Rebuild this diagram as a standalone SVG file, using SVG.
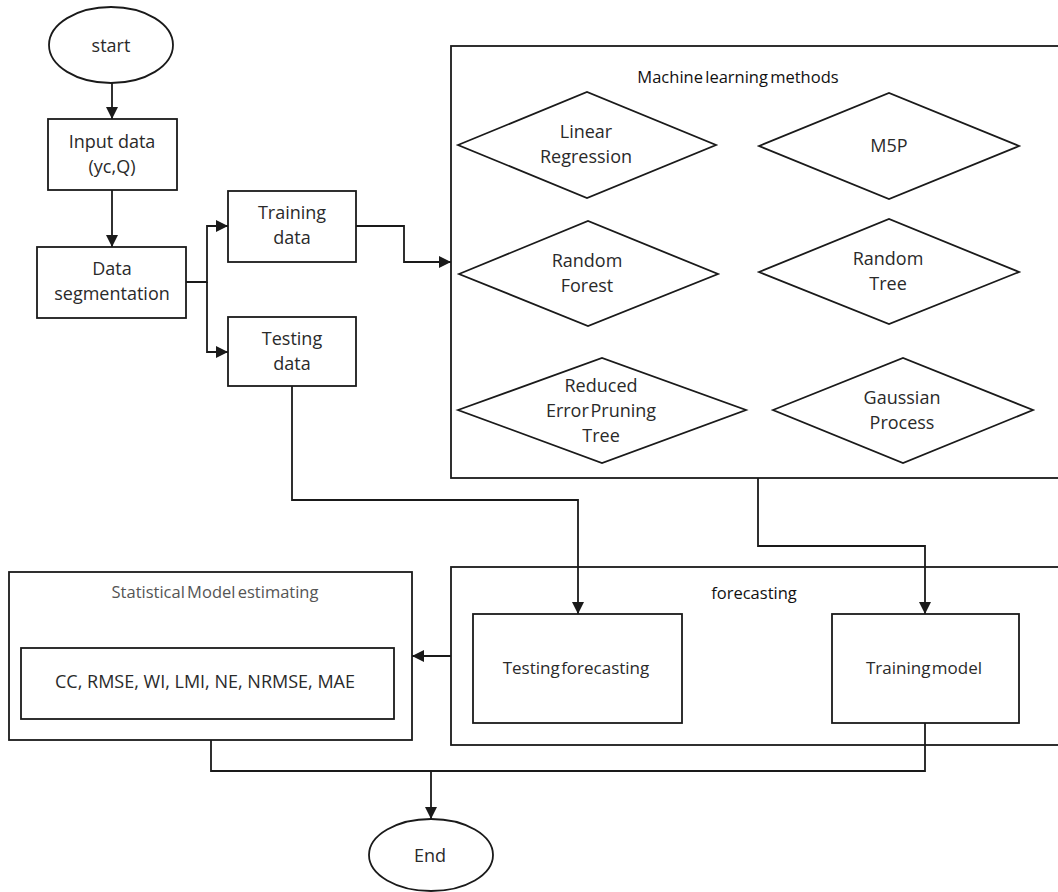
<svg xmlns="http://www.w3.org/2000/svg" width="1058" height="892" viewBox="0 0 1058 892">
<style>
.shape{fill:#fff;stroke:#1a1a1a;stroke-width:1.8}
.grp{fill:none;stroke:#1a1a1a;stroke-width:1.8}
.conn{fill:none;stroke:#1a1a1a;stroke-width:1.8}
.lbl{font-family:"Open Sans","Noto Sans",sans-serif;font-size:18px;fill:#2a2a2a;text-anchor:middle}
.ttl{font-family:"Open Sans","Noto Sans",sans-serif;font-size:16.5px;fill:#111;text-anchor:middle;word-spacing:-2px}
.sm{font-size:17px;word-spacing:-3px}
</style>
<defs>
<marker id="arr" viewBox="0 0 12 12" refX="12" refY="6" markerWidth="13" markerHeight="12" markerUnits="userSpaceOnUse" orient="auto">
<path d="M0,0 L12,6 L0,12 z" fill="#1a1a1a"/>
</marker>
</defs>
<rect width="1058" height="892" fill="#fff"/>

<g id="ml-group">
<rect class="grp" x="451" y="46" width="620" height="432"/>
<text class="ttl" x="738" y="83">Machine learning methods</text>
</g>
<g id="forecasting-group">
<rect class="grp" x="451" y="567" width="620" height="178"/>
<text class="ttl" x="754" y="599">forecasting</text>
</g>
<g id="stat-group">
<rect class="grp" x="9" y="572" width="403" height="168"/>
<text class="ttl" x="215" y="598" style="fill:#555">Statistical Model estimating</text>
</g>

<g id="connectors">
<path class="conn" d="M112,83 V119" marker-end="url(#arr)"/>
<path class="conn" d="M112,190 V247" marker-end="url(#arr)"/>
<path class="conn" d="M186,282 H207 V226 H228" marker-end="url(#arr)"/>
<path class="conn" d="M207,282 V352 H228" marker-end="url(#arr)"/>
<path class="conn" d="M356,226 H404 V262 H451" marker-end="url(#arr)"/>
<path class="conn" d="M292,386 V500 H578 V614" marker-end="url(#arr)"/>
<path class="conn" d="M758,478 V546 H925 V614" marker-end="url(#arr)"/>
<path class="conn" d="M451,656 H412" marker-end="url(#arr)"/>
<path class="conn" d="M925,723 V771 H211 V740"/>
<path class="conn" d="M431,771 V819" marker-end="url(#arr)"/>
</g>

<g id="start">
<ellipse class="shape" cx="111" cy="45" rx="62" ry="38"/>
<text class="lbl" x="111" y="52">start</text>
</g>
<g id="input-data">
<rect class="shape" x="48" y="119" width="129" height="71"/>
<text class="lbl" x="112" y="148">Input data</text>
<text class="lbl" x="112" y="173">(yc,Q)</text>
</g>
<g id="data-segmentation">
<rect class="shape" x="37" y="247" width="149" height="71"/>
<text class="lbl" x="112" y="275">Data</text>
<text class="lbl" x="112" y="300">segmentation</text>
</g>
<g id="training-data">
<rect class="shape" x="228" y="191" width="128" height="71"/>
<text class="lbl" x="292" y="219">Training</text>
<text class="lbl" x="292" y="244">data</text>
</g>
<g id="testing-data">
<rect class="shape" x="228" y="317" width="128" height="69"/>
<text class="lbl" x="292" y="345">Testing</text>
<text class="lbl" x="292" y="370">data</text>
</g>

<g id="linear-regression">
<polygon class="shape" points="458,145 587,92 716,145 587,198"/>
<text class="lbl" x="586" y="138">Linear</text>
<text class="lbl" x="586" y="163">Regression</text>
</g>
<g id="m5p">
<polygon class="shape" points="759,146 889,93 1019,146 889,199"/>
<text class="lbl" x="889" y="152">M5P</text>
</g>
<g id="random-forest">
<polygon class="shape" points="459,274 588,221 718,274 588,326"/>
<text class="lbl" x="587" y="267">Random</text>
<text class="lbl" x="587" y="292">Forest</text>
</g>
<g id="random-tree">
<polygon class="shape" points="759,272 889,219 1019,272 889,324"/>
<text class="lbl" x="888" y="265">Random</text>
<text class="lbl" x="888" y="290">Tree</text>
</g>
<g id="reduced-error-pruning-tree">
<polygon class="shape" points="458,410 602,358 746,410 602,463"/>
<text class="lbl" x="601" y="392">Reduced</text>
<text class="lbl" x="601" y="417" style="word-spacing:-3px">Error Pruning</text>
<text class="lbl" x="601" y="442">Tree</text>
</g>
<g id="gaussian-process">
<polygon class="shape" points="773,410 903,358 1033,410 903,463"/>
<text class="lbl" x="902" y="404">Gaussian</text>
<text class="lbl" x="902" y="429">Process</text>
</g>

<g id="testing-forecasting">
<rect class="shape" x="473" y="614" width="209" height="109"/>
<text class="lbl sm" x="576" y="674">Testing forecasting</text>
</g>
<g id="training-model">
<rect class="shape" x="832" y="614" width="187" height="109"/>
<text class="lbl sm" x="924" y="674">Training model</text>
</g>

<g id="metrics">
<rect class="shape" x="21" y="648" width="373" height="71"/>
<text class="lbl" x="205" y="688">CC, RMSE, WI, LMI, NE, NRMSE, MAE</text>
</g>

<g id="end">
<ellipse class="shape" cx="431" cy="855" rx="62" ry="36"/>
<text class="lbl" x="430" y="862">End</text>
</g>
</svg>
